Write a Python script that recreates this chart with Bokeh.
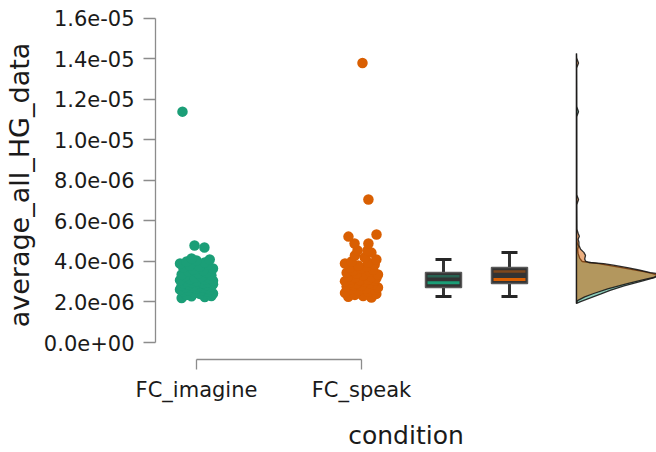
from bokeh.plotting import figure
from bokeh.models import Range1d, FixedTicker
from bokeh.embed import file_html
from bokeh.resources import INLINE

# ---------------- data (values in units of 1e-6) ----------------
categories = ["FC_imagine", "FC_speak"]
colors = ["#1B9E77", "#D95F02"]

imagine_values = [2.20, 2.25, 2.28, 2.30, 2.35, 2.40, 2.42, 2.45, 2.50, 2.52,
                  2.55, 2.58, 2.60, 2.62, 2.65, 2.68, 2.70, 2.72, 2.74, 2.76,
                  2.78, 2.80, 2.82, 2.84, 2.86, 2.88, 2.90, 2.92, 2.94, 2.96,
                  2.98, 3.00, 3.02, 3.05, 3.08, 3.10, 3.13, 3.16, 3.20, 3.24,
                  3.28, 3.32, 3.36, 3.40, 3.45, 3.50, 3.55, 3.60, 3.65, 3.70,
                  3.75, 3.80, 3.85, 3.90, 3.95, 4.00, 4.05, 4.10, 4.15,
                  4.79, 4.69, 11.40]
imagine_jitter = [-0.09, 0.05, -0.03, 0.09, -0.06, 0.02, 0.10, -0.01, 0.07, -0.08,
                  0.03, -0.05, 0.08, -0.10, 0.00, 0.06, -0.04, 0.04, -0.07, 0.01,
                  0.09, -0.02, -0.09, 0.06, -0.05, 0.10, 0.02, -0.08, 0.04, -0.03,
                  0.07, -0.06, 0.00, 0.10, -0.10, 0.05, -0.04, 0.08, -0.01, 0.03,
                  -0.07, 0.09, -0.09, 0.01, 0.06, -0.05, 0.04, -0.02, 0.10, -0.08,
                  0.02, -0.04, 0.07, -0.10, 0.05, -0.06, 0.00, 0.08, -0.03,
                  -0.012, 0.048, -0.085]

speak_values = [2.22, 2.26, 2.30, 2.35, 2.40, 2.45, 2.50, 2.55, 2.60, 2.64,
                2.68, 2.72, 2.76, 2.80, 2.84, 2.88, 2.91, 2.94, 2.97, 3.00,
                3.03, 3.06, 3.09, 3.11, 3.14, 3.17, 3.20, 3.24, 3.28, 3.32,
                3.36, 3.40, 3.45, 3.50, 3.55, 3.60, 3.65, 3.70, 3.75, 3.80,
                3.85, 3.90, 3.95, 4.00, 4.10, 4.20, 4.30, 4.44,
                4.54, 4.54, 4.89, 4.89, 5.23, 5.33, 7.06, 13.80]
speak_jitter = [0.06, -0.08, 0.01, -0.04, 0.09, -0.10, 0.04, -0.02, 0.08, -0.06,
                0.03, 0.10, -0.09, 0.00, -0.05, 0.07, -0.03, 0.05, -0.07, 0.02,
                -0.10, 0.08, -0.01, 0.04, -0.06, 0.09, -0.04, 0.06, -0.08, 0.01,
                0.10, -0.03, -0.09, 0.05, -0.05, 0.07, 0.00, -0.07, 0.03, -0.02,
                0.08, -0.10, 0.04, -0.06, 0.09, 0.02, -0.04, 0.06,
                -0.024, 0.036, -0.042, 0.042, -0.079, 0.091, 0.042, 0.006]

# box statistics
box_lower = [2.27, 2.27]
box_q1 = [2.72, 2.91]
box_median = [2.95, 3.11]
box_mean = [3.27, 3.51]
box_q3 = [3.46, 3.70]
box_upper = [4.10, 4.44]

# half-violin density profiles (relative density)
imagine_dens_y = [1.93, 2.02, 2.20, 2.40, 2.57, 2.80, 3.06, 3.20, 3.30, 3.40,
                  3.50, 3.70, 3.90, 4.00, 4.15, 4.40, 4.60, 4.75, 4.90, 5.10,
                  11.15, 11.40, 11.65, 14.27]
imagine_dens = [0.0, 0.05, 0.17, 0.30, 0.41, 0.58, 0.82, 0.95, 1.0, 0.93,
                0.82, 0.55, 0.27, 0.07, 0.04, 0.02, 0.015, 0.025, 0.01, 0.002,
                0.002, 0.025, 0.002, 0.0]
speak_dens_y = [1.93, 2.07, 2.25, 2.42, 2.65, 2.91, 3.10, 3.21, 3.30, 3.40,
                3.45, 3.58, 3.70, 3.82, 3.90, 3.95, 4.02, 4.12, 4.30, 4.45,
                4.60, 4.80, 4.95, 5.10, 5.25, 5.40, 5.60, 6.80, 7.06, 7.30,
                13.55, 13.80, 14.05, 14.27]
speak_dens = [0.0, 0.012, 0.10, 0.21, 0.38, 0.62, 0.82, 0.94, 0.98, 1.0,
              0.90, 0.76, 0.62, 0.45, 0.33, 0.15, 0.11, 0.10, 0.11, 0.09,
              0.05, 0.03, 0.03, 0.02, 0.035, 0.02, 0.005, 0.003, 0.025, 0.003,
              0.002, 0.025, 0.002, 0.0]

y_ticks = [0, 2, 4, 6, 8, 10, 12, 14, 16]
y_tick_labels = ["0.0e+00", "2.0e-06", "4.0e-06", "6.0e-06", "8.0e-06",
                 "1.0e-05", "1.2e-05", "1.4e-05", "1.6e-05"]

# ---------------- layout ----------------
FONT = "DejaVu Sans"
p = figure(width=656, height=452,
           x_range=Range1d(0.7515, 3.788), y_range=Range1d(-0.8395, 16.395),
           output_backend="svg", toolbar_location=None,
           min_border_left=155, min_border_right=0, min_border_top=10, min_border_bottom=93)
p.grid.visible = False
p.outline_line_color = None
p.background_fill_color = "white"
p.border_fill_color = "white"

# y axis
ya = p.yaxis[0]
ya.ticker = FixedTicker(ticks=y_ticks)
ya.major_label_overrides = {t: l for t, l in zip(y_ticks, y_tick_labels)}
ya.bounds = (0, 16)
ya.axis_label = "average_all_HG_data"
ya.axis_label_text_font = FONT
ya.axis_label_text_font_size = "27px"
ya.axis_label_text_font_style = "normal"
ya.axis_label_text_color = "#1a1a1a"
ya.axis_label_standoff = 6
ya.major_label_text_font = FONT
ya.major_label_text_font_size = "21px"
ya.major_label_text_color = "#1a1a1a"
ya.major_label_standoff = 9
ya.major_tick_out = 12
ya.major_tick_in = 0
ya.minor_tick_out = 0
ya.minor_tick_in = 0
ya.axis_line_color = "#8c8c8c"
ya.major_tick_line_color = "#8c8c8c"
ya.axis_line_width = 1.3
ya.major_tick_line_width = 1.3

# x axis
xa = p.xaxis[0]
xa.ticker = FixedTicker(ticks=[1, 2])
xa.major_label_overrides = {1: categories[0], 2: categories[1]}
xa.bounds = (1, 2)
xa.axis_label = "condition"
xa.axis_label_text_font = FONT
xa.axis_label_text_font_size = "25px"
xa.axis_label_text_font_style = "normal"
xa.axis_label_text_color = "#1a1a1a"
xa.axis_label_standoff = 16
xa.major_label_text_font = FONT
xa.major_label_text_font_size = "21px"
xa.major_label_text_color = "#1a1a1a"
xa.major_label_standoff = 8
xa.major_tick_out = 10
xa.major_tick_in = 0
xa.minor_tick_out = 0
xa.minor_tick_in = 0
xa.axis_line_color = "#8c8c8c"
xa.major_tick_line_color = "#8c8c8c"
xa.axis_line_width = 1.3
xa.major_tick_line_width = 1.3

# ---------------- jittered points ----------------
for i, (vals, jit) in enumerate([(imagine_values, imagine_jitter), (speak_values, speak_jitter)]):
    xs = [i + 1 + j for j in jit]
    p.scatter(xs, vals, size=10.5, fill_color=colors[i], line_color=None)

# ---------------- box plots ----------------
box_x = [2.497, 2.897]
box_w = 0.218
cap_w = 0.097
for i in range(2):
    x0 = box_x[i]
    p.segment([x0, x0], [box_q3[i], box_q1[i]], [x0, x0], [box_upper[i], box_lower[i]],
              line_color="#333333", line_width=3)
    p.segment([x0 - cap_w / 2] * 2, [box_upper[i], box_lower[i]],
              [x0 + cap_w / 2] * 2, [box_upper[i], box_lower[i]],
              line_color="#262626", line_width=3)
    p.quad(left=[x0 - box_w / 2], right=[x0 + box_w / 2], bottom=[box_q1[i]], top=[box_q3[i]],
           fill_color="#333333", line_color="#5a5a5a", line_width=1.5)
    p.segment([x0 - box_w / 2 + 0.012], [box_mean[i]], [x0 + box_w / 2 - 0.012], [box_mean[i]],
              line_color=colors[i], line_alpha=0.45, line_width=2.5)
    p.segment([x0 - box_w / 2 + 0.012], [box_median[i]], [x0 + box_w / 2 - 0.012], [box_median[i]],
              line_color=colors[i], line_width=3)

# ---------------- half violins ----------------
base = 3.303
dscale = 0.497
for i, (dy, dd) in enumerate([(imagine_dens_y, imagine_dens), (speak_dens_y, speak_dens)]):
    xs = [base + dscale * d for d in dd] + [base, base]
    ys = list(dy) + [dy[-1], dy[0]]
    p.patch(xs, ys, fill_color=colors[i], fill_alpha=0.5,
            line_color="#1a1a1a", line_width=1.3, line_alpha=0.9)

open("out.html", "w").write(file_html(p, INLINE))
